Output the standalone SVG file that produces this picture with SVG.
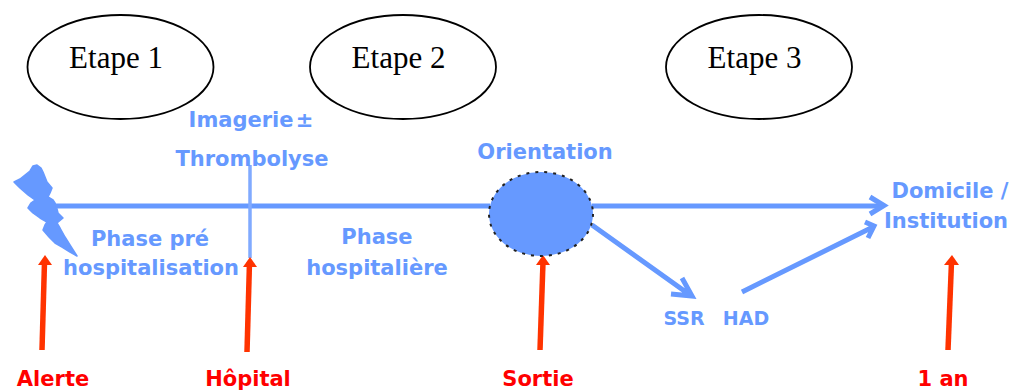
<svg xmlns="http://www.w3.org/2000/svg" width="1009" height="390" viewBox="0 0 1009 390">
<style>
.step{fill:#fff;stroke:#000;stroke-width:1.8}
.st{font:31px "Liberation Serif",serif;fill:#000;text-anchor:middle}
.b{font:bold 21px "DejaVu Sans",sans-serif;fill:#6699ff;text-anchor:middle}
.s{font:bold 19px "DejaVu Sans",sans-serif;fill:#6699ff;text-anchor:middle}
.r{font:bold 21px "DejaVu Sans",sans-serif;fill:#ff0000;text-anchor:middle}
.bl{stroke:#6699ff;stroke-width:5;fill:none}
.rd{stroke:#ff3300;stroke-width:5.5;fill:none}
.hd{fill:#ff3300}
</style>
<rect width="1009" height="390" fill="#fff"/>
<g id="etape1"><ellipse class="step" cx="120.500" cy="67" rx="93" ry="52"/><text class="st" x="116" y="68">Etape 1</text></g>
<g id="etape2"><ellipse class="step" cx="403" cy="67" rx="93" ry="52"/><text class="st" x="398.500" y="68">Etape 2</text></g>
<g id="etape3"><ellipse class="step" cx="759" cy="67" rx="93" ry="52"/><text class="st" x="754.500" y="68">Etape 3</text></g>
<g id="connectors">
<path class="bl" d="M52 206H490M592 206H882"/>
<path class="bl" style="stroke-width:3.5;stroke:#80aaff" d="M250 165V258"/>
<path class="bl" d="M870 197L884 205.500L870 214"/>
<path class="bl" d="M592 225L690 295M682 278L692 296L671 294"/>
<path class="bl" d="M742 292L873 227M865 222L874 226L868 238"/>
<path class="rd" d="M42 350L44.500 262"/><path class="hd" d="M45 255L52 265H38Z"/>
<path class="rd" d="M247 352L249.500 262"/><path class="hd" d="M250 257L257 267H243Z"/>
<path class="rd" d="M540 350L543 262"/><path class="hd" d="M543 255L550 265H536Z"/>
<path class="rd" d="M948 350L951.500 262"/><path class="hd" d="M952 255L959 265H944Z"/>
</g>
<g id="eclair"><path fill="#6699ff" stroke="#6699ff" stroke-width="1.500" stroke-linejoin="round" d="M14 182L20 179L25 175L30 171L33 166L37 165L41 168L43 172L45 177L47 182L52 188L50 193L48 197L53 200L55 203L57 209L58 213L63 218L57 223L60 228L65 237L70 245L77 256L70 252L62 247L55 243L49 237L43 230L45 225L47 222L40 218L33 213L28 208L31 203L35 200L28 195L20 188Z"/></g>
<g id="orientation"><ellipse cx="541" cy="214" rx="52" ry="42" fill="#6699ff" stroke="#222" stroke-width="2" stroke-dasharray="3 6"/></g>
<g id="labels">
<text class="b" x="251" y="127" word-spacing="-5">Imagerie ±</text>
<text class="b" x="252" y="166">Thrombolyse</text>
<text class="b" x="545" y="159">Orientation</text>
<text class="b" x="150" y="246">Phase pré</text>
<text class="b" x="151" y="275">hospitalisation</text>
<text class="b" x="377" y="244">Phase</text>
<text class="b" x="377" y="275">hospitalière</text>
<text class="s" x="684" y="325">SSR</text>
<text class="s" x="746" y="325">HAD</text>
<text class="b" x="950" y="198">Domicile /</text>
<text class="b" x="946" y="228">Institution</text>
<text class="r" x="53" y="386">Alerte</text>
<text class="r" x="248" y="386">Hôpital</text>
<text class="r" x="538" y="386">Sortie</text>
<text class="r" x="943" y="386">1 an</text>
</g>
</svg>
